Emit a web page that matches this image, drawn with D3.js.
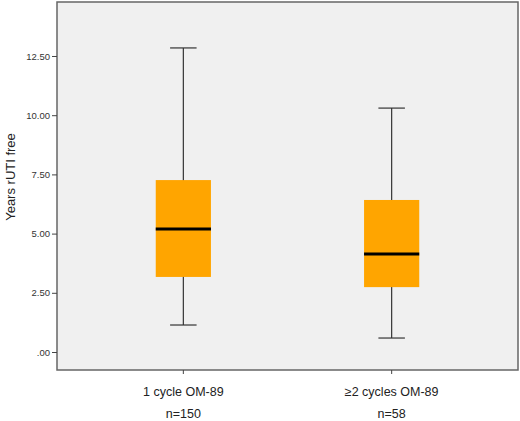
<!DOCTYPE html>
<html><head><meta charset="utf-8">
<script src="https://cdn.jsdelivr.net/npm/d3@7"></script>
<style>body{margin:0;background:#fff;font-family:Arial,"Liberation Sans",sans-serif}</style>
</head><body><div id="chart"></div>
<script>
var groups = ["1 cycle OM-89", "\u22652 cycles OM-89"];
var counts = ["n=150", "n=58"];
var mins = [1.14, 0.59];
var q1s = [3.17, 2.74];
var medians = [5.19, 4.14];
var q3s = [7.26, 6.42];
var maxs = [12.84, 10.30];
var yTicks = [0, 2.5, 5, 7.5, 10, 12.5];

var totalWidth = 520, totalHeight = 421,
    margin = {top: 2, right: 2, bottom: 51, left: 57},
    width = totalWidth - margin.left - margin.right,
    height = totalHeight - margin.top - margin.bottom;

var x = d3.scaleBand().domain(groups).range([0, width]).paddingInner(0.735).paddingOuter(0.474),
    y = d3.scaleLinear().domain([-0.76, 14.78]).range([height, 0]);

var svg = d3.select("#chart").append("svg")
  .attr("width", totalWidth).attr("height", totalHeight)
  .append("g").attr("transform", "translate(" + margin.left + "," + margin.top + ")");

svg.append("rect").attr("width", width).attr("height", height)
  .attr("fill", "#f0f0f0").attr("stroke", "#666").attr("stroke-width", 1.5);

var yAxis = svg.append("g")
  .call(d3.axisLeft(y).tickValues(yTicks).tickSize(5)
    .tickFormat(function(d) { return d === 0 ? ".00" : d.toFixed(2); }));
yAxis.select(".domain").remove();
yAxis.selectAll("line").attr("stroke", "#444");
yAxis.selectAll("text").attr("font-size", 9.5).attr("fill", "#333").attr("dx", 1);

var xAxis = svg.append("g").attr("transform", "translate(0," + height + ")")
  .call(d3.axisBottom(x).tickSize(4).tickPadding(13));
xAxis.select(".domain").remove();
xAxis.selectAll("line").attr("stroke", "#444");
xAxis.selectAll("text").attr("font-size", 12.5).attr("fill", "#222");

svg.append("g").selectAll("text").data(counts).join("text")
  .attr("x", function(d, i) { return x(groups[i]) + x.bandwidth() / 2; })
  .attr("y", height + 48).attr("text-anchor", "middle")
  .attr("font-size", 12.5).attr("fill", "#222").text(function(d) { return d; });

svg.append("text").attr("transform", "rotate(-90)")
  .attr("x", -175).attr("y", -42).attr("text-anchor", "middle")
  .attr("font-size", 13).attr("fill", "#222").text("Years rUTI free");

var boxes = svg.append("g").selectAll("g").data(groups).join("g")
  .attr("transform", function(d) { return "translate(" + x(d) + ",0)"; });
var bw = x.bandwidth(), cx = bw / 2, cap = bw * 0.24;

boxes.append("line").attr("x1", cx).attr("x2", cx)
  .attr("y1", function(d, i) { return y(maxs[i]); })
  .attr("y2", function(d, i) { return y(mins[i]); })
  .attr("stroke", "#333").attr("stroke-width", 1.2);
[maxs, mins].forEach(function(arr) {
  boxes.append("line").attr("x1", cx - cap).attr("x2", cx + cap)
    .attr("y1", function(d, i) { return y(arr[i]); })
    .attr("y2", function(d, i) { return y(arr[i]); })
    .attr("stroke", "#333").attr("stroke-width", 1.2);
});
boxes.append("rect").attr("width", bw)
  .attr("y", function(d, i) { return y(q3s[i]); })
  .attr("height", function(d, i) { return y(q1s[i]) - y(q3s[i]); })
  .attr("fill", "#ffa500");
boxes.append("line").attr("x1", 0).attr("x2", bw)
  .attr("y1", function(d, i) { return y(medians[i]); })
  .attr("y2", function(d, i) { return y(medians[i]); })
  .attr("stroke", "#000").attr("stroke-width", 3);
</script></body></html>
